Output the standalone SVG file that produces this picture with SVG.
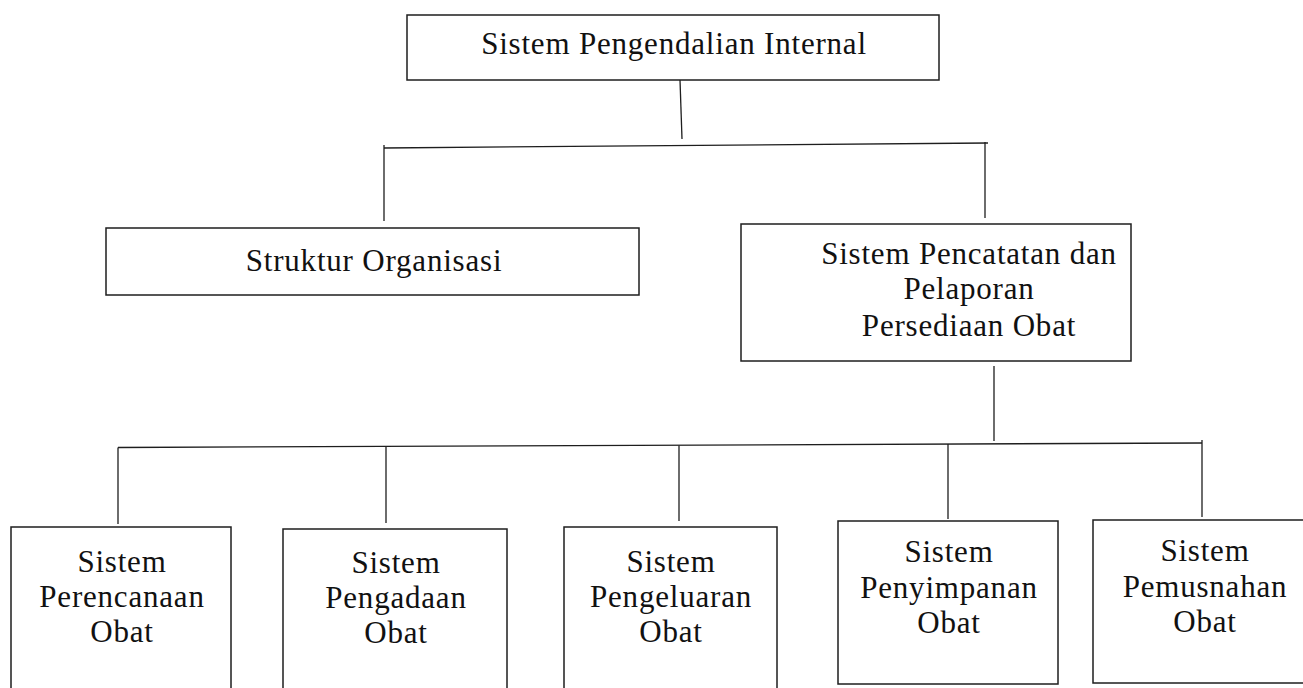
<svg xmlns="http://www.w3.org/2000/svg" width="1303" height="688" viewBox="0 0 1303 688">
<style>
.box{fill:#fff;stroke:#1e1e1e;stroke-width:1.5}
.ln{fill:none;stroke:#1e1e1e;stroke-width:1.3}
text{font-family:"Liberation Serif","Times New Roman",serif;font-size:31px;fill:#111;text-anchor:middle;letter-spacing:0.8px}
</style>
<rect width="1303" height="688" fill="#fff"/>
<g id="connectors">
<line class="ln" x1="680" y1="80" x2="682" y2="139"/>
<line class="ln" x1="384" y1="148" x2="988" y2="143"/>
<line class="ln" x1="384" y1="145" x2="384" y2="221"/>
<line class="ln" x1="985" y1="142" x2="985" y2="218"/>
<line class="ln" x1="994" y1="366" x2="994" y2="441"/>
<line class="ln" x1="118" y1="447.5" x2="1202" y2="443"/>
<line class="ln" x1="118" y1="447.5" x2="118" y2="524"/>
<line class="ln" x1="386" y1="447" x2="386" y2="523"/>
<line class="ln" x1="679" y1="445.5" x2="679" y2="521"/>
<line class="ln" x1="948" y1="444" x2="948" y2="519"/>
<line class="ln" x1="1202" y1="440" x2="1202" y2="517"/>
</g>
<g id="n-spi">
<rect class="box" x="407" y="15" width="532" height="65"/>
<text x="674" y="54">Sistem Pengendalian Internal</text>
</g>
<g id="n-struktur">
<rect class="box" x="106" y="228" width="533" height="67"/>
<text x="374" y="271">Struktur Organisasi</text>
</g>
<g id="n-pencatatan">
<rect class="box" x="741" y="224" width="390" height="137"/>
<text x="969" y="264">Sistem Pencatatan dan</text>
<text x="969" y="299">Pelaporan</text>
<text x="969" y="336">Persediaan Obat</text>
</g>
<g id="n-perencanaan">
<rect class="box" x="11" y="527" width="220" height="175"/>
<text x="122" y="572">Sistem</text>
<text x="122" y="607">Perencanaan</text>
<text x="122" y="642">Obat</text>
</g>
<g id="n-pengadaan">
<rect class="box" x="283" y="529" width="224" height="175"/>
<text x="396" y="573">Sistem</text>
<text x="396" y="608">Pengadaan</text>
<text x="396" y="643">Obat</text>
</g>
<g id="n-pengeluaran">
<rect class="box" x="564" y="527" width="213" height="175"/>
<text x="671" y="572">Sistem</text>
<text x="671" y="607">Pengeluaran</text>
<text x="671" y="642">Obat</text>
</g>
<g id="n-penyimpanan">
<rect class="box" x="838" y="521" width="220" height="163"/>
<text x="949" y="562">Sistem</text>
<text x="949" y="598">Penyimpanan</text>
<text x="949" y="633">Obat</text>
</g>
<g id="n-pemusnahan">
<rect class="box" x="1093" y="520" width="230" height="163"/>
<text x="1205" y="561">Sistem</text>
<text x="1205" y="597">Pemusnahan</text>
<text x="1205" y="632">Obat</text>
</g>
</svg>
